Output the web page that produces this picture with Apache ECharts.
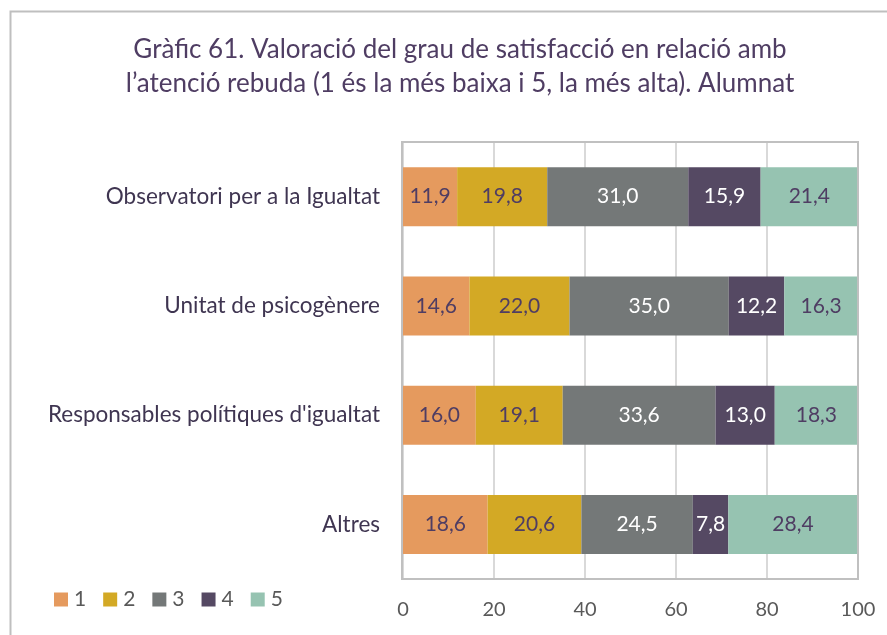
<!DOCTYPE html>
<html>
<head>
<meta charset="utf-8">
<script src="https://cdn.jsdelivr.net/npm/echarts@6/dist/echarts.min.js"></script>
<style>
  html, body { margin: 0; padding: 0; background: #fff; }
  #chart { width: 887px; height: 635px; }
</style>
</head>
<body>
<div id="chart"></div>
<script>
// Categories, top to bottom
const categories = [
  'Observatori per a la Igualtat',
  'Unitat de psicogènere',
  'Responsables polítiques d\'igualtat',
  'Altres'
];
// Percentage of each rating (1 = lowest, 5 = highest) per category
const rating1 = [11.9, 14.6, 16.0, 18.6];
const rating2 = [19.8, 22.0, 19.1, 20.6];
const rating3 = [31.0, 35.0, 33.6, 24.5];
const rating4 = [15.9, 12.2, 13.0, 7.8];
const rating5 = [21.4, 16.3, 18.3, 28.4];
const seriesNames = ['1', '2', '3', '4', '5'];
const xTicks = [0, 20, 40, 60, 80, 100];

const colors = ['#E59A5E', '#D3A925', '#747878', '#554963', '#96C3B1'];
const labelColors = ['#4F3D63', '#4F3D63', '#FFFFFF', '#FFFFFF', '#4F3D63'];
const values = [rating1, rating2, rating3, rating4, rating5];
const FONT = 'Lato, "Open Sans", sans-serif';

const chart = echarts.init(document.getElementById('chart'));

const series = seriesNames.map((name, i) => ({
  name: name,
  type: 'bar',
  stack: 'total',
  barWidth: 59,
  data: values[i],
  itemStyle: { color: colors[i] },
  label: {
    show: true,
    position: 'inside',
    color: labelColors[i],
    fontFamily: FONT,
    fontSize: 21,
    formatter: p => p.value.toFixed(1).replace('.', ',')
  },
  emphasis: { disabled: true }
}));

chart.setOption({
  animation: false,
  backgroundColor: '#fff',
  title: {
    text: 'Gràfic 61. Valoració del grau de satisfacció en relació amb\nl\u2019atenció rebuda (1 és la més baixa i 5, la més alta). Alumnat',
    left: 455,
    top: 28,
    textAlign: 'center',
    textStyle: {
      fontFamily: FONT,
      fontSize: 26,
      fontWeight: 'normal',
      color: '#4F3D63',
      lineHeight: 34
    }
  },
  legend: {
    left: 54,
    top: 589,
    padding: 0,
    itemWidth: 14,
    itemHeight: 14,
    itemGap: 17,
    icon: 'rect',
    data: seriesNames,
    textStyle: { fontFamily: FONT, fontSize: 21, color: '#595959', padding: [0, 0, 0, 1] }
  },
  grid: { left: 403, right: 29, top: 142, bottom: 56, containLabel: false },
  xAxis: {
    type: 'value',
    min: xTicks[0],
    max: xTicks[xTicks.length - 1],
    interval: 20,
    axisLine: { show: false },
    axisTick: { show: false },
    splitLine: { show: true, lineStyle: { color: '#D9D9D9', width: 2 } },
    axisLabel: { fontFamily: FONT, fontSize: 20, color: '#595959', margin: 21 }
  },
  yAxis: {
    type: 'category',
    inverse: true,
    data: categories,
    axisLine: { show: false },
    axisTick: { show: false },
    axisLabel: { fontFamily: FONT, fontSize: 22.5, color: '#3F3551', margin: 23 }
  },
  graphic: [
    {
      type: 'rect',
      shape: { x: 10.5, y: 11.5, width: 900, height: 700 },
      style: { fill: 'none', stroke: '#BFBFBF', lineWidth: 2 },
      silent: true, z: -1
    },
    {
      type: 'rect',
      shape: { x: 402, y: 142, width: 456, height: 437 },
      style: { fill: 'none', stroke: '#C0C0C0', lineWidth: 2 },
      silent: true, z: 10
    }
  ],
  series: series
});
</script>
</body>
</html>
